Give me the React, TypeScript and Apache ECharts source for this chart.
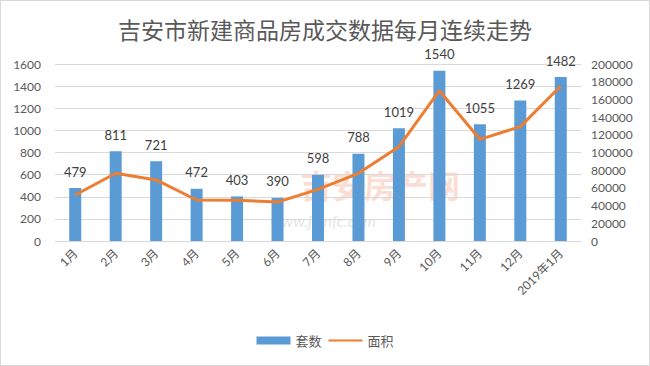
import React, { useEffect, useRef } from "react";
import * as echarts from "echarts";

const categories = ["1月", "2月", "3月", "4月", "5月", "6月", "7月", "8月", "9月", "10月", "11月", "12月", "2019年1月"];
const unitsSold = [479, 811, 721, 472, 403, 390, 598, 788, 1019, 1540, 1055, 1269, 1482];
const areaSold = [52000, 76500, 69000, 46300, 46000, 44000, 58400, 76500, 106600, 169800, 114900, 129200, 175100];

const FONT = "Lato, 'Noto Sans CJK SC', sans-serif";

export default function App() {
  const ref = useRef<HTMLDivElement>(null);
  useEffect(() => {
    document.body.style.margin = "0";
    const chart = echarts.init(ref.current!, null, { renderer: "svg" });
    chart.setOption({
      animation: false,
      backgroundColor: "#ffffff",
      textStyle: { fontFamily: FONT },
      title: {
        text: "吉安市新建商品房成交数据每月连续走势",
        left: "center",
        top: 13,
        textStyle: { fontSize: 23, fontWeight: "normal", color: "#595959", fontFamily: FONT },
      },
      graphic: [
        {
          type: "rect",
          shape: { x: 0.5, y: 0.5, width: 649, height: 365 },
          style: { fill: "none", stroke: "#d9d9d9", lineWidth: 1 },
          silent: true,
        },
        {
          type: "text",
          x: 300,
          y: 169,
          z: -1,
          style: { text: "吉安房产网", fontSize: 32, fontWeight: "bold", fill: "rgba(240,120,80,0.25)", fontFamily: FONT },
          silent: true,
        },
        {
          type: "text",
          x: 270,
          y: 212,
          z: -1,
          style: { text: "www.jianfc.com", fontSize: 16, fontStyle: "italic", fill: "rgba(150,150,150,0.28)", fontFamily: FONT },
          silent: true,
        },
      ],
      legend: {
        bottom: 14,
        left: "center",
        itemWidth: 34,
        itemHeight: 8,
        itemGap: 6,
        textStyle: { fontSize: 13, color: "#595959", fontFamily: FONT },
        data: [
          { name: "套数", icon: "rect" },
          { name: "面积", itemStyle: { color: "rgba(0,0,0,0)", borderWidth: 0 } },
        ],
      },
      grid: { left: 55, right: 69, top: 64, bottom: 125, containLabel: false },
      xAxis: {
        type: "category",
        data: categories,
        axisLine: { lineStyle: { color: "#d9d9d9" } },
        axisTick: { show: false },
        axisLabel: { rotate: 45, fontSize: 12, color: "#595959", interval: 0, margin: 10, fontFamily: FONT },
      },
      yAxis: [
        {
          type: "value",
          min: 0,
          max: 1600,
          interval: 200,
          axisLine: { show: false },
          axisTick: { show: false },
          splitLine: { lineStyle: { color: "#d9d9d9" } },
          axisLabel: { fontSize: 12, color: "#595959", margin: 14, fontFamily: FONT, formatter: (v: number) => String(v) },
        },
        {
          type: "value",
          min: 0,
          max: 200000,
          interval: 20000,
          axisLine: { show: false },
          axisTick: { show: false },
          splitLine: { show: false },
          axisLabel: { fontSize: 12, color: "#595959", margin: 10, fontFamily: FONT, formatter: (v: number) => String(v) },
        },
      ],
      series: [
        {
          name: "套数",
          type: "bar",
          data: unitsSold,
          barWidth: 12,
          itemStyle: { color: "#5b9bd5" },
          label: { show: true, position: "top", distance: 10, fontSize: 13, color: "#404040", fontFamily: FONT },
        },
        {
          name: "面积",
          type: "line",
          yAxisIndex: 1,
          data: areaSold,
          symbol: "none",
          lineStyle: { color: "#ed7d31", width: 3 },
          itemStyle: { color: "#ed7d31" },
        },
      ],
    });
    return () => chart.dispose();
  }, []);
  return <div ref={ref} style={{ width: 650, height: 366 }} />;
}
